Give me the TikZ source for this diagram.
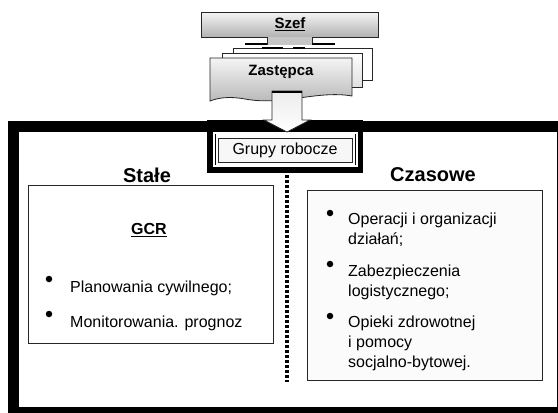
\documentclass[tikz,border=0pt]{standalone}
\usepackage{fontspec}
\setmainfont{Liberation Sans}
\usetikzlibrary{calc}
\usetikzlibrary{positioning}

\tikzset{
  thinbox/.style={draw=black!85, line width=0.8pt},
  grayshade/.style={top color=gray!8, bottom color=gray!60},
  bodytext/.style={font=\fontsize{16}{20}\selectfont, inner sep=0pt, anchor=west, align=left},
  headtext/.style={font=\fontsize{20}{24}\selectfont\bfseries, inner sep=0pt},
  bulletdot/.style={fill=black, circle, inner sep=0pt, minimum size=6.5pt},
}

\begin{document}
\begin{tikzpicture}[x=1pt, y=-1pt, line join=miter]
            \useasboundingbox (0,0) rectangle (558,413);
            \clip (0,0) rectangle (558,413);

            % stack of deputies
            \draw [thinbox, fill=white] (233,48) rectangle (372,80);
            \draw [thinbox, top color=white, bottom color=gray!25] (222,53) rectangle (362,87);
            \draw [thinbox, grayshade] (210,58) -- (352,58) -- (352,96)
                .. controls (318,90) and (282,106) .. (245,99)
                .. controls (228,96) and (218,98) .. (210,101) -- cycle;
            \node [font=\fontsize{15}{18}\selectfont\bfseries, inner sep=0pt] (zastepca) at (281,72) {Zastępca};

            % chief
            \draw [thinbox, grayshade] (201,12) rectangle (378,37);
            \fill [gray!45] (267,36.6) rectangle (312,45);
            \draw [thinbox] (267,37) -- (267,45) (312,37) -- (312,45);
            \draw [line width=1.6pt] (245,44) -- (267,44) (312,44) -- (335,44);
            \draw [line width=1.6pt] (262,48) -- (283,48) (293,48) -- (305,48);
            \node [font=\fontsize{15}{18}\selectfont\bfseries, inner sep=0pt] (szef) at (290,24) {\underline{Szef}};

            % outer frame with the hanging box
            \draw [line width=11pt] (13.5,126) rectangle (562.5,412.5);
            \fill [black] (207,120) rectangle (363,173);
            \fill [white] (213,132) rectangle (358,167);
            \draw [line width=0.8pt] (215.5,134) -- (215.5,165) (355.5,134) -- (355.5,165);
            \node [thinbox, fill=gray!6, minimum width=134pt, minimum height=24pt,
                   font=\fontsize{16}{20}\selectfont] (grupy) at (285,150) {Grupy robocze};

            % block arrow
            \draw [thinbox, top color=gray!15, bottom color=white]
                (272,91) -- (302,91) -- (302,120) -- (310,120) -- (287,132) -- (264,120) -- (272,120) -- cycle;
            \draw [line width=2.5pt] (272,92) -- (302,92);

            % dotted divider
            \coordinate (divtop) at (287,175);
            \coordinate (divbot) at (287,382);
            \draw [line width=4pt, dash pattern=on 3pt off 2pt] (divtop) -- (divbot);

            % permanent groups
            \node [headtext] (stale) at (147,175) {Stałe};
            \draw [thinbox, fill=white] (28,185) rectangle (273,343);
            \node [font=\fontsize{16}{20}\selectfont\bfseries, inner sep=0pt] (gcr) at (149,230) {\underline{GCR}};
            \node [bulletdot] (sb1) at (49,279) {};
            \node [bulletdot] (sb2) at (49,314) {};
            \node [bodytext] (plan) at (70,288) {Planowania cywilnego;};
            \node [bodytext] (moni) at (70,323) {Monitorowania. prognoz};

            % temporary groups
            \node [headtext] (czasowe) at (433,175) {Czasowe};
            \draw [thinbox, fill=gray!3] (307,190) rectangle (542,380);
            \node [bulletdot] (cb1) at (330,213) {};
            \node [bulletdot] (cb2) at (330,264) {};
            \node [bulletdot] (cb3) at (330,316) {};
            \node [bodytext] (oper) at (348,230) {Operacji i organizacji\\działań;};
            \node [bodytext] (zabe) at (348,282) {Zabezpieczenia\\logistycznego;};
            \node [bodytext] (opie) at (348,343) {Opieki zdrowotnej\\i pomocy\\socjalno-bytowej.};
        \end{tikzpicture}
\end{document}
